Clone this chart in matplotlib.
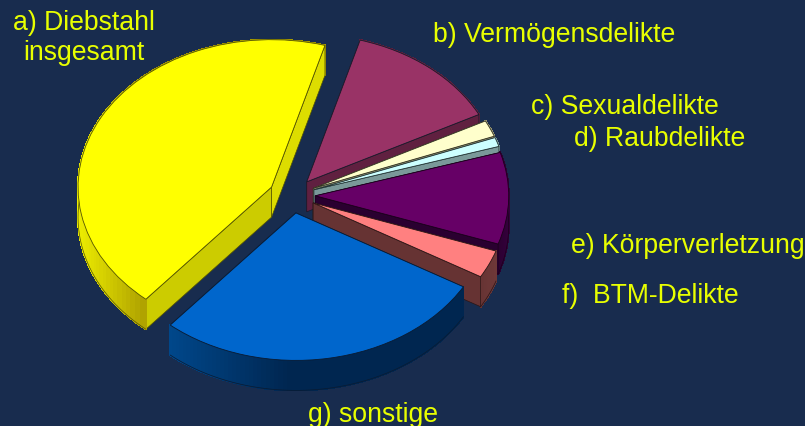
import numpy as np
import matplotlib
matplotlib.use('Agg')
import matplotlib.pyplot as plt
from matplotlib.collections import PolyCollection
from matplotlib.colors import to_rgb
from matplotlib.patches import Polygon

# slices, clockwise from a)
labels = ['a) Diebstahl\ninsgesamt', 'b) Vermögensdelikte', 'c) Sexualdelikte', 'd) Raubdelikte',
          'e) Körperverletzung', 'f)  BTM-Delikte', 'g) sonstige']
values = [43.2, 13.0, 1.8, 1.0, 10.05, 3.05, 27.9]
top_colors = ['#ffff00', '#993366', '#ffffcc', '#ccffff', '#660066', '#ff8080', '#0066cc']
cut_a = ['#dddd00', '#602040', '#999977', '#7a9999', '#2a0030', '#663333', '#002850']
cut_b = ['#cccc00', '#602040', '#999977', '#7a9999', '#2a0030', '#663333', '#002850']
rim_start = ['#a89a00', '#602040', '#999977', '#7a9999', '#2a0030', '#663333', '#002650']
rim_end = ['#eeee00', '#602040', '#999977', '#7a9999', '#33003a', '#6e3838', '#00478a']
edge_colors = ['#555500', '#1a1a2a', '#333322', '#223333', '#1a001a', '#2a1515', '#0a1a30']

BG = '#182c4e'
TEXT = '#e8ff00'
R_PX = 193.5
SQUASH = 0.762
CX, CY = 292.0, 196.5
DEPTH = 30.0 / (R_PX * SQUASH)
W, H = 805, 427

fig = plt.figure(figsize=(W / 100, H / 100), dpi=100, facecolor=BG)
ax = fig.add_axes([0, 0, 1, 1])
wedges, _ = ax.pie(values, startangle=229.5, counterclock=False, explode=[0.12] * len(values),
                   colors=top_colors, wedgeprops=dict(linewidth=0.6))


def mix(c1, c2, t):
    a, b = np.array(to_rgb(c1)), np.array(to_rgb(c2))
    return tuple(a + (b - a) * t)


def cut_face(w, t, col, edge, z):
    ex, ey = w.center[0] + np.cos(t), w.center[1] + np.sin(t)
    cx, cy = w.center
    ax.add_patch(Polygon([(cx, cy), (ex, ey), (ex, ey - DEPTH), (cx, cy - DEPTH)],
                         facecolor=col, edgecolor=edge, linewidth=0.5, zorder=z))


for i, w in enumerate(wedges):
    z = i * 10
    cx, cy = w.center
    t1, t2 = np.radians(w.theta1), np.radians(w.theta2)
    w.set_edgecolor(edge_colors[i])
    # far cut face, then rim, then near cut face over both
    cut_face(w, t2, cut_b[i], edge_colors[i], z)
    th = np.linspace(t1, t2, 80)
    xs, ys = cx + np.cos(th), cy + np.sin(th)
    quads = [[(xs[k], ys[k]), (xs[k + 1], ys[k + 1]), (xs[k + 1], ys[k + 1] - DEPTH), (xs[k], ys[k] - DEPTH)]
             for k in range(len(th) - 1)]
    tx = (xs[:-1] - xs.min()) / max(xs.max() - xs.min(), 1e-6)
    if i in (0, 6):
        cols = [mix(rim_end[i], rim_start[i], min(1, v * (3.5 if i == 0 else 2.5))) for v in tx]
    else:
        cols = [mix(rim_start[i], rim_end[i], v) for v in tx]
    ax.add_collection(PolyCollection(quads, facecolors=cols, edgecolors=cols, linewidths=0.8,
                                     antialiaseds=False, zorder=z + 1))
    ax.plot(xs, ys - DEPTH, color=edge_colors[i], lw=0.5, zorder=z + 2)
    # this face only shows when it points towards the viewer
    cut_face(w, t1, cut_a[i], edge_colors[i], z + 3 if np.cos(t1) > 0 else z)
    w.set_zorder(z + 5)

# axes: 1 data unit = R_PX pixels in x and R_PX*SQUASH in y, no equal aspect
ax.set_aspect('auto')
ax.set_xlim(-CX / R_PX, (W - CX) / R_PX)
ax.set_ylim(-(H - CY) / (R_PX * SQUASH), CY / (R_PX * SQUASH))
ax.axis('off')

# text placed in pixels from the top left
font = dict(color=TEXT, fontsize=19.2, family='Liberation Sans', va='baseline', ha='left')
label_px = [[(13, 30), (23, 60)], [(433, 42)], [(531, 114)], [(574, 146)], [(571, 253)], [(562, 303)], [(308, 422)]]
for lab, spots in zip(labels, label_px):
    for line, (px, py) in zip(lab.split('\n'), spots):
        fig.text(px / W, 1 - py / H, line, **font)

fig.savefig('out.png', dpi=100, facecolor=BG)
